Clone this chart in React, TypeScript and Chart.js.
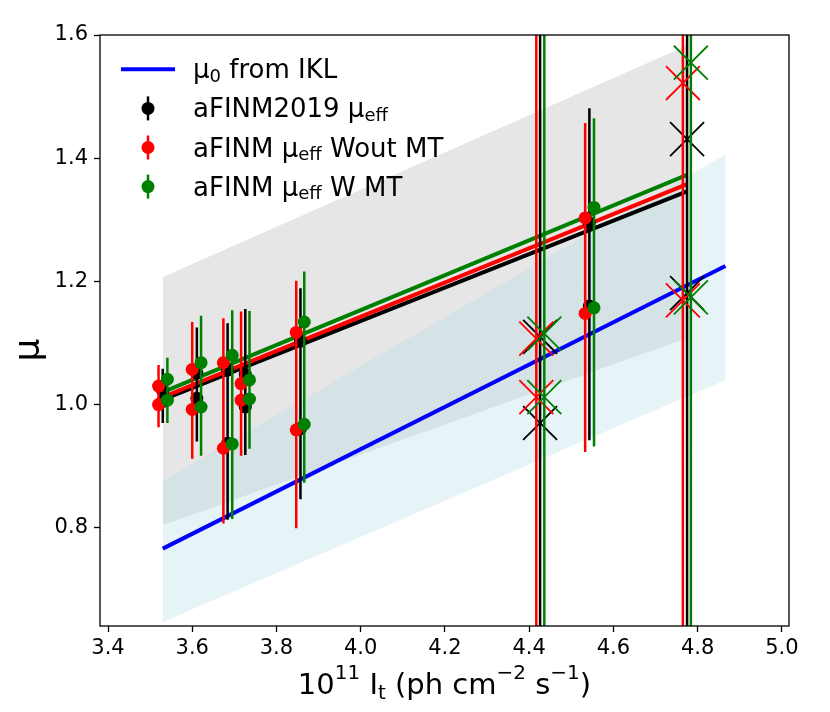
import { useEffect, useRef } from "react";
import { Chart, registerables } from "chart.js";

Chart.register(...registerables);

const FONT = '"DejaVu Sans", sans-serif';

// ---- axes ----
const xTicks = [3.4, 3.6, 3.8, 4.0, 4.2, 4.4, 4.6, 4.8, 5.0];
const yTicks = [0.8, 1.0, 1.2, 1.4, 1.6];
const xRange = [3.381, 5.017];
const yRange = [0.6404, 1.6];

// ---- aFINM2019 mu_eff (black) ----
const blackX = [3.53, 3.53, 3.611, 3.611, 3.684, 3.684, 3.726, 3.726, 3.857, 3.857, 4.543, 4.543];
const blackY = [1.022, 1.005, 1.051, 1.01, 1.056, 0.937, 1.049, 0.996, 1.103, 0.961, 1.295, 1.16];
const blackErr = [0.036, 0.035, 0.074, 0.07, 0.076, 0.124, 0.106, 0.078, 0.086, 0.115, 0.186, 0.218];
const blackOutX = [4.426, 4.426, 4.775, 4.775];
const blackOutY = [1.11, 0.97, 1.431, 1.181];
const blackOutErr = [0.8, 0.8, 0.8, 0.8];

// ---- aFINM mu_eff Wout MT (red) ----
const redX = [3.52, 3.52, 3.6, 3.6, 3.674, 3.674, 3.716, 3.716, 3.847, 3.847, 4.533, 4.533];
const redY = [1.03, 1.0, 1.057, 0.992, 1.068, 0.929, 1.034, 1.007, 1.117, 0.959, 1.303, 1.148];
const redErr = [0.034, 0.037, 0.077, 0.08, 0.072, 0.122, 0.117, 0.089, 0.084, 0.16, 0.154, 0.225];
const redOutX = [4.417, 4.417, 4.765, 4.765];
const redOutY = [1.107, 1.012, 1.522, 1.169];
const redOutErr = [0.8, 0.8, 0.8, 0.8];

// ---- aFINM mu_eff W MT (green) ----
const greenX = [3.541, 3.541, 3.621, 3.621, 3.695, 3.695, 3.736, 3.736, 3.866, 3.866, 4.554, 4.554];
const greenY = [1.041, 1.007, 1.068, 0.996, 1.08, 0.936, 1.04, 1.009, 1.134, 0.968, 1.32, 1.157];
const greenErr = [0.035, 0.037, 0.076, 0.079, 0.073, 0.122, 0.112, 0.08, 0.082, 0.095, 0.145, 0.225];
const greenOutX = [4.436, 4.436, 4.784, 4.784];
const greenOutY = [1.115, 1.012, 1.555, 1.174];
const greenOutErr = [0.8, 0.8, 0.8, 0.8];

// ---- fitted lines ----
const fitX = [3.53, 4.775];
const blackFit = [1.008, 1.346];
const redFit = [1.012, 1.358];
const greenFit = [1.02, 1.373];

// ---- mu0 from IKL ----
const mu0X = [3.53, 4.866];
const mu0Y = [0.766, 1.225];

// ---- bands ----
const grayBandX = [3.53, 4.775];
const grayUpper = [1.207, 1.583];
const grayLower = [0.804, 1.108];
const blueBandX = [3.53, 4.866];
const blueUpper = [0.876, 1.406];
const blueLower = [0.647, 1.04];

type Seg = { t: string; s: number; dy: number };
const sub = (t: string): Seg => ({ t, s: 18, dy: 3.5 });
const txt = (t: string): Seg => ({ t, s: 26, dy: 0 });
const legendRows: { kind: "line" | "err"; color: string; segs: Seg[] }[] = [
  { kind: "line", color: "#0000ff", segs: [txt("μ"), sub("0"), txt(" from IKL")] },
  { kind: "err", color: "#000000", segs: [txt("aFINM2019 μ"), sub("eff")] },
  { kind: "err", color: "#ff0000", segs: [txt("aFINM μ"), sub("eff"), txt(" Wout MT")] },
  { kind: "err", color: "#008000", segs: [txt("aFINM μ"), sub("eff"), txt(" W MT")] },
];
const xTitle: Seg[] = [
  { t: "10", s: 29, dy: 0 },
  { t: "11", s: 20, dy: -15 },
  { t: " I", s: 29, dy: 0 },
  { t: "t", s: 20, dy: 5 },
  { t: " (ph cm", s: 29, dy: 0 },
  { t: "−2", s: 20, dy: -15 },
  { t: " s", s: 29, dy: 0 },
  { t: "−1", s: 20, dy: -15 },
  { t: ")", s: 29, dy: 0 },
];

function drawSegs(ctx: CanvasRenderingContext2D, segs: Seg[], x: number, y: number, align: "left" | "center") {
  ctx.textAlign = "left";
  ctx.textBaseline = "alphabetic";
  let w = 0;
  for (const g of segs) {
    ctx.font = `${g.s}px ${FONT}`;
    w += ctx.measureText(g.t).width;
  }
  let cx = align === "center" ? x - w / 2 : x;
  for (const g of segs) {
    ctx.font = `${g.s}px ${FONT}`;
    ctx.fillText(g.t, cx, y + g.dy);
    cx += ctx.measureText(g.t).width;
  }
}

const pts = (xs: number[], ys: number[]) => xs.map((x, i) => ({ x, y: ys[i] }));
const bars = (xs: number[], ys: number[], es: number[]) =>
  xs.flatMap((x, i) => [
    { x, y: ys[i] - es[i] },
    { x, y: ys[i] + es[i] },
    { x, y: null as any },
  ]);

const decorPlugin = {
  id: "decor",
  afterDatasetsDraw(chart: any) {
    const { ctx, chartArea: a } = chart;
    ctx.save();
    ctx.strokeStyle = "#000";
    ctx.lineWidth = 1.3;
    ctx.strokeRect(a.left, a.top, a.right - a.left, a.bottom - a.top);
    ctx.restore();
  },
  afterDraw(chart: any) {
    const { ctx, chartArea: a } = chart;
    ctx.save();
    ctx.fillStyle = "#000";
    drawSegs(ctx, xTitle, (a.left + a.right) / 2, 694, "center");
    ctx.save();
    ctx.translate(30, 350);
    ctx.rotate(-Math.PI / 2);
    ctx.textAlign = "center";
    ctx.textBaseline = "middle";
    ctx.font = `36px ${FONT}`;
    ctx.fillText("μ", 0, 0);
    ctx.restore();
    legendRows.forEach((r, i) => {
      const base = 78.3 + i * 39.1;
      const my = base - 9;
      if (r.kind === "line") {
        ctx.strokeStyle = r.color;
        ctx.lineWidth = 4;
        ctx.beginPath();
        ctx.moveTo(121, my);
        ctx.lineTo(175, my);
        ctx.stroke();
      } else {
        ctx.strokeStyle = r.color;
        ctx.lineWidth = 2.5;
        ctx.beginPath();
        ctx.moveTo(148, my - 12);
        ctx.lineTo(148, my + 12);
        ctx.stroke();
        ctx.fillStyle = r.color;
        ctx.beginPath();
        ctx.arc(148, my, 6.5, 0, Math.PI * 2);
        ctx.fill();
      }
      ctx.fillStyle = "#000";
      drawSegs(ctx, r.segs, 193, base, "left");
    });
    ctx.restore();
  },
};

export default function App() {
  const ref = useRef<HTMLCanvasElement>(null);
  useEffect(() => {
    if (!ref.current) return;
    const lineDs = (label: string, data: any[], color: string, width: number, order: number) => ({
      label,
      data,
      borderColor: color,
      borderWidth: width,
      pointRadius: 0,
      fill: false,
      tension: 0,
      spanGaps: false,
      borderCapStyle: "butt",
      order,
    });
    const dotDs = (label: string, data: any[], color: string, order: number) => ({
      label,
      data,
      showLine: false,
      pointRadius: 6.5,
      pointHoverRadius: 6.5,
      pointBackgroundColor: color,
      pointBorderWidth: 0,
      borderColor: color,
      order,
    });
    const crossDs = (label: string, data: any[], color: string, order: number) => ({
      label,
      data,
      showLine: false,
      pointStyle: "crossRot",
      pointRadius: 24,
      pointHoverRadius: 24,
      pointBorderColor: color,
      pointBorderWidth: 1.8,
      borderColor: color,
      order,
    });
    const datasets: any[] = [
      {
        label: "grayUpper",
        data: pts(grayBandX, grayUpper),
        borderColor: "transparent",
        borderWidth: 0,
        pointRadius: 0,
        fill: "+1",
        backgroundColor: "rgba(128,128,128,0.2)",
        order: 100,
      },
      {
        label: "grayLower",
        data: pts(grayBandX, grayLower),
        borderColor: "transparent",
        borderWidth: 0,
        pointRadius: 0,
        fill: false,
        order: 100,
      },
      {
        label: "blueUpper",
        data: pts(blueBandX, blueUpper),
        borderColor: "transparent",
        borderWidth: 0,
        pointRadius: 0,
        fill: "+1",
        backgroundColor: "rgba(173,216,230,0.3)",
        order: 99,
      },
      {
        label: "blueLower",
        data: pts(blueBandX, blueLower),
        borderColor: "transparent",
        borderWidth: 0,
        pointRadius: 0,
        fill: false,
        order: 99,
      },
      lineDs("mu0", pts(mu0X, mu0Y), "#0000ff", 4, 90),
      lineDs("blackFit", pts(fitX, blackFit), "#000000", 4, 82),
      lineDs("redFit", pts(fitX, redFit), "#ff0000", 4, 81),
      lineDs("greenFit", pts(fitX, greenFit), "#008000", 4, 80),
      lineDs("blackBars", [...bars(blackX, blackY, blackErr), ...bars(blackOutX, blackOutY, blackOutErr)], "#000000", 2.5, 70),
      dotDs("black", pts(blackX, blackY), "#000000", 69),
      crossDs("blackOut", pts(blackOutX, blackOutY), "#000000", 68),
      lineDs("redBars", [...bars(redX, redY, redErr), ...bars(redOutX, redOutY, redOutErr)], "#ff0000", 2.5, 60),
      dotDs("red", pts(redX, redY), "#ff0000", 59),
      crossDs("redOut", pts(redOutX, redOutY), "#ff0000", 58),
      lineDs("greenBars", [...bars(greenX, greenY, greenErr), ...bars(greenOutX, greenOutY, greenOutErr)], "#008000", 2.5, 50),
      dotDs("green", pts(greenX, greenY), "#008000", 49),
      crossDs("greenOut", pts(greenOutX, greenOutY), "#008000", 48),
    ];
    const axisCommon = {
      type: "linear",
      grid: {
        display: true,
        drawOnChartArea: false,
        drawTicks: true,
        tickLength: 6,
        tickWidth: 1.3,
        tickColor: "#000",
      },
      border: { display: false },
    };
    const chart = new Chart(ref.current, {
      type: "line",
      data: { datasets },
      plugins: [decorPlugin],
      options: {
        animation: false,
        responsive: false,
        maintainAspectRatio: false,
        events: [],
        layout: { padding: { left: 0, right: 41, top: 35, bottom: 0 } },
        plugins: { legend: { display: false }, tooltip: { enabled: false } },
        scales: {
          x: {
            ...axisCommon,
            min: xRange[0],
            max: xRange[1],
            afterBuildTicks: (s: any) => {
              s.ticks = xTicks.map((v) => ({ value: v }));
            },
            afterFit: (s: any) => {
              s.height = 86;
            },
            ticks: {
              color: "#000",
              padding: 4,
              maxRotation: 0,
              autoSkip: false,
              font: { family: FONT, size: 21 },
              callback: (v: any) => Number(v).toFixed(1),
            },
          },
          y: {
            ...axisCommon,
            min: yRange[0],
            max: yRange[1],
            afterBuildTicks: (s: any) => {
              s.ticks = yTicks.map((v) => ({ value: v }));
            },
            afterFit: (s: any) => {
              s.width = 100;
            },
            ticks: {
              color: "#000",
              padding: 6,
              autoSkip: false,
              font: { family: FONT, size: 21 },
              callback: (v: any) => Number(v).toFixed(1),
            },
          },
        },
      } as any,
    } as any);
    return () => chart.destroy();
  }, []);
  return (
    <div style={{ position: "absolute", left: 0, top: 0, width: 830, height: 712, background: "#fff" }}>
      <canvas ref={ref} width={830} height={712} style={{ width: 830, height: 712, display: "block" }} />
    </div>
  );
}
